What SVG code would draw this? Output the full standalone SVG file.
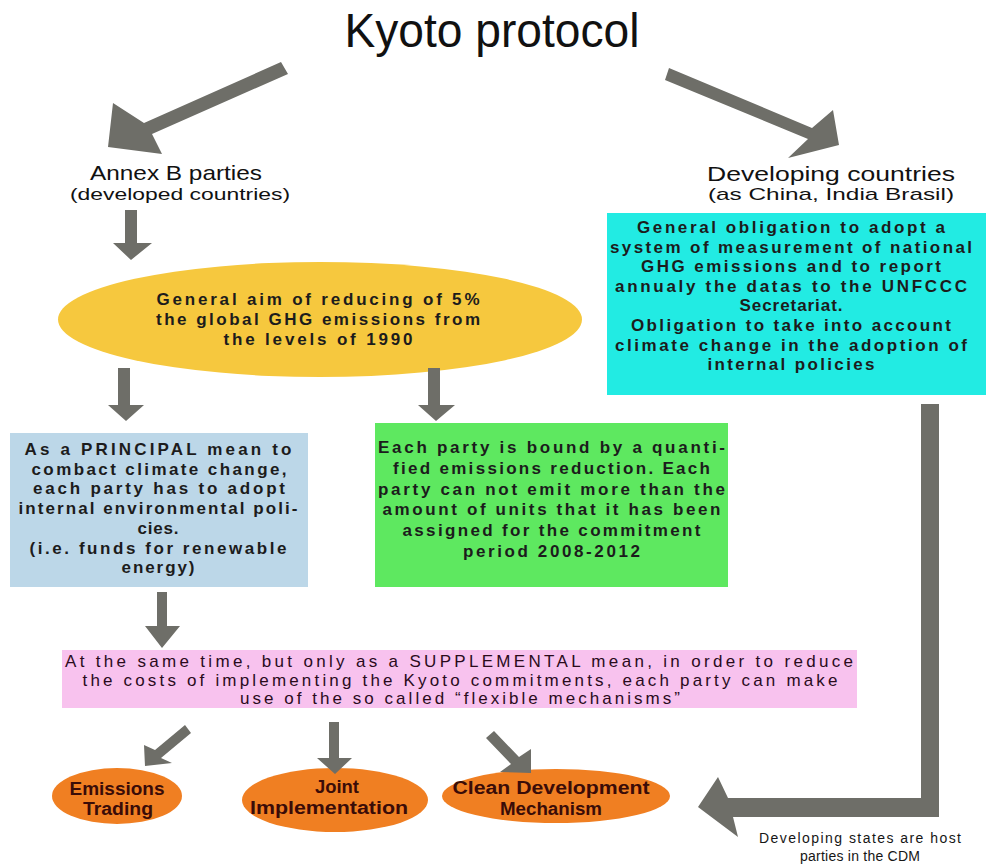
<svg xmlns="http://www.w3.org/2000/svg" width="994" height="868" viewBox="0 0 994 868">
<style>
  text { font-family: "Liberation Sans", Arial, sans-serif; text-anchor: middle; }
  .t { font-size: 17px; fill: #1c1c1c; font-weight: bold; }
  .p { font-size: 17px; fill: #2a0b1c; }
  .o { font-size: 18px; fill: #3a0c08; font-weight: bold; }
  .arrow { fill: #6e6e68; }
</style>
<rect width="994" height="868" fill="#ffffff"/>

<g id="title">
  <text x="492" y="47" font-size="48" fill="#111" textLength="295" lengthAdjust="spacingAndGlyphs">Kyoto protocol</text>
</g>

<g id="annexB">
  <text x="176" y="180" font-size="21" fill="#111" textLength="172" lengthAdjust="spacingAndGlyphs">Annex B parties</text>
  <text x="180" y="200" font-size="17" fill="#111" textLength="220" lengthAdjust="spacingAndGlyphs">(developed countries)</text>
</g>

<g id="developing">
  <text x="831" y="181" font-size="21" fill="#111" textLength="248" lengthAdjust="spacingAndGlyphs">Developing countries</text>
  <text x="831" y="200" font-size="17" fill="#111" textLength="246" lengthAdjust="spacingAndGlyphs">(as China, India Brasil)</text>
</g>

<g id="obligations">
  <rect x="607" y="213" width="379" height="182" fill="#22ebe3"/>
  <text class="t" x="791" y="233" textLength="308" lengthAdjust="spacing">General obligation to adopt a</text>
  <text class="t" x="791" y="252.6" textLength="362" lengthAdjust="spacing">system of measurement of national</text>
  <text class="t" x="791" y="272.2" textLength="300" lengthAdjust="spacing">GHG emissions and to report</text>
  <text class="t" x="791" y="291.8" textLength="352" lengthAdjust="spacing">annualy the datas to the UNFCCC</text>
  <text class="t" x="791" y="311.4" textLength="103" lengthAdjust="spacing">Secretariat.</text>
  <text class="t" x="791" y="331" textLength="320" lengthAdjust="spacing">Obligation to take into account</text>
  <text class="t" x="791" y="350.6" textLength="352" lengthAdjust="spacing">climate change in the adoption of</text>
  <text class="t" x="791" y="370.2" textLength="167" lengthAdjust="spacing">internal policies</text>
</g>

<g id="aim">
  <ellipse cx="320" cy="319.5" rx="262" ry="57.5" fill="#f6c83e"/>
  <text class="t" x="318" y="305" textLength="323" lengthAdjust="spacing">General aim of reducing of 5%</text>
  <text class="t" x="318" y="325" textLength="324" lengthAdjust="spacing">the global GHG emissions from</text>
  <text class="t" x="318" y="345" textLength="189" lengthAdjust="spacing">the levels of 1990</text>
</g>

<g id="principal">
  <rect x="10" y="433" width="298" height="154" fill="#bcd7e8"/>
  <text class="t" x="158" y="455" textLength="267" lengthAdjust="spacing">As a PRINCIPAL mean to</text>
  <text class="t" x="159" y="474.7" textLength="255" lengthAdjust="spacing">combact climate change,</text>
  <text class="t" x="159" y="494.4" textLength="252" lengthAdjust="spacing">each party has to adopt</text>
  <text class="t" x="158" y="514" textLength="279" lengthAdjust="spacing">internal environmental poli-</text>
  <text class="t" x="158" y="533.8" textLength="41" lengthAdjust="spacing">cies.</text>
  <text class="t" x="158" y="553.5" textLength="257" lengthAdjust="spacing">(i.e. funds for renewable</text>
  <text class="t" x="158" y="573" textLength="73" lengthAdjust="spacing">energy)</text>
</g>

<g id="quantified">
  <rect x="375" y="423" width="353" height="164" fill="#5ee860"/>
  <text class="t" x="551.5" y="453" textLength="347" lengthAdjust="spacing">Each party is bound by a quanti-</text>
  <text class="t" x="551.5" y="473.8" textLength="317" lengthAdjust="spacing">fied emissions reduction. Each</text>
  <text class="t" x="551.5" y="494.6" textLength="347" lengthAdjust="spacing">party can not emit more than the</text>
  <text class="t" x="551.5" y="515.4" textLength="338" lengthAdjust="spacing">amount of units that it has been</text>
  <text class="t" x="551.5" y="536.2" textLength="298" lengthAdjust="spacing">assigned for the commitment</text>
  <text class="t" x="551.5" y="557" textLength="177" lengthAdjust="spacing">period 2008-2012</text>
</g>

<g id="supplemental">
  <rect x="62" y="650" width="795" height="58" fill="#f8c2ee"/>
  <text class="p" x="459" y="667" textLength="788" lengthAdjust="spacing">At the same time, but only as a SUPPLEMENTAL mean, in order to reduce</text>
  <text class="p" x="460" y="686" textLength="755" lengthAdjust="spacing">the costs of implementing the Kyoto commitments, each party can make</text>
  <text class="p" x="460" y="704" textLength="440" lengthAdjust="spacing">use of the so called “flexible mechanisms”</text>
</g>

<g id="emissionsTrading">
  <ellipse cx="117" cy="796" rx="65" ry="28" fill="#f07f22"/>
  <text class="o" x="117" y="795" textLength="95" lengthAdjust="spacingAndGlyphs">Emissions</text>
  <text class="o" x="118" y="815" textLength="70" lengthAdjust="spacingAndGlyphs">Trading</text>
</g>

<g id="jointImplementation">
  <ellipse cx="335" cy="800" rx="93" ry="32" fill="#f07f22"/>
  <text class="o" x="337" y="793" textLength="44" lengthAdjust="spacingAndGlyphs">Joint</text>
  <text class="o" x="329" y="814" textLength="158" lengthAdjust="spacingAndGlyphs">Implementation</text>
</g>

<g id="cdm">
  <ellipse cx="556" cy="796" rx="114" ry="27" fill="#f07f22"/>
  <text class="o" x="551" y="794" font-size="17" textLength="197" lengthAdjust="spacingAndGlyphs">Clean Development</text>
  <text class="o" x="551" y="815" font-size="17" textLength="102" lengthAdjust="spacingAndGlyphs">Mechanism</text>
</g>

<g id="hostNote">
  <text x="860" y="843" font-size="14" fill="#161616" textLength="202" lengthAdjust="spacing">Developing states are host</text>
  <text x="860" y="861" font-size="14" fill="#161616" textLength="120" lengthAdjust="spacing">parties in the CDM</text>
</g>

<g id="connectors" class="arrow">
  <polygon points="281,62 288,74 152,134 162,154 108,147 113,103 144,123"/>
  <polygon points="669,68 812,128 833,110 839,145 788,158 808,139 665,80"/>
  <polygon points="125,210 137,210 137,243 152,243 131,260 113,243 125,243"/>
  <polygon points="118,368 130,368 130,405 144,405 126,421 108,405 118,405"/>
  <polygon points="428,368 440,368 440,405 455,405 436,421 418,405 428,405"/>
  <polygon points="157,592 167,592 167,626 180,626 162,648 145,626 157,626"/>
  <polygon points="185,725 191,733 161,758 172,763 145,766 144,745 155,750"/>
  <polygon points="329,722 339,722 339,758 352,758 335,774 317,758 329,758"/>
  <polygon points="494,731 519,757 531,749 531,773 500,772 511,764 486,738"/>
  <polygon points="921,404 939,404 939,817 733,817 738,837 698,807 718,777 728,798 921,798"/>
</g>
</svg>
